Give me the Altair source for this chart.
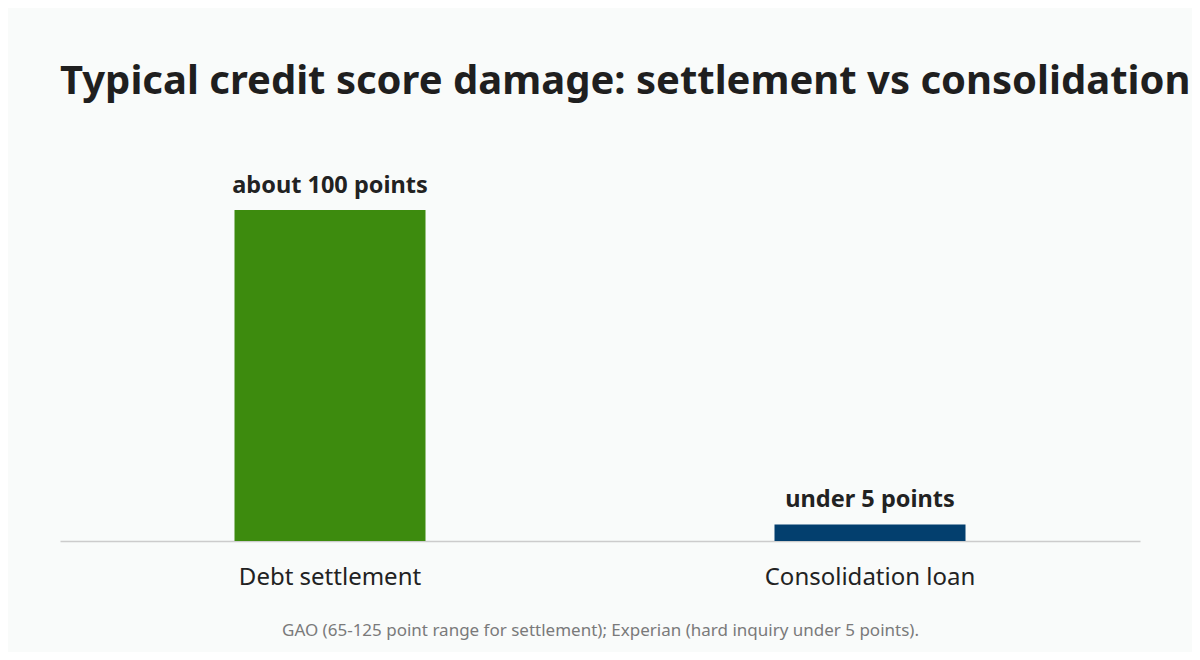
import altair as alt
import pandas as pd

categories = ["Debt settlement", "Consolidation loan"]
values = [100, 5]
labels = ["about 100 points", "under 5 points"]
colors = ["#3d8b0e", "#033f6e"]

df = pd.DataFrame({"cat": categories, "val": values, "label": labels, "color": colors})

FONT = "Noto Sans"

x = alt.X("cat:N", sort=categories,
          axis=alt.Axis(title="GAO (65-125 point range for settlement); Experian (hard inquiry under 5 points).",
                        titleFontSize=17, titleColor="#7a7a7a", titleFontWeight="normal",
                        titlePadding=33, titleFont=FONT,
                        labelFontSize=24, labelColor="#222222", labelFont=FONT, labelPadding=24,
                        labelLimit=600,
                        labelAngle=0, ticks=False, domainColor="#cccccc", domainWidth=1.5))

y = alt.Y("val:Q", scale=alt.Scale(domain=[0, 110]), axis=None)

bars = alt.Chart(df).mark_bar(size=191).encode(
    x=x, y=y, color=alt.Color("color:N", scale=None)
)

text = alt.Chart(df).mark_text(baseline="bottom", dy=-12, fontSize=23.5, fontWeight="bold",
                               font=FONT, color="#222222").encode(
    x=alt.X("cat:N", sort=categories), y=y, text="label:N"
)

chart = alt.layer(bars, text).properties(
    width=1080, height=364,
    padding={"left": 52, "top": 169, "right": 52, "bottom": 111},
    autosize=alt.AutoSizeParams(type="none"),
    background="#f9fbfa",
    title=alt.TitleParams("Typical credit score damage: settlement vs consolidation",
                          anchor="start", frame="group", fontSize=40, fontWeight="bold",
                          font=FONT, color="#1f1f1f", offset=72),
).configure_view(stroke=None)

chart.save("out.html", embed_options={"renderer": "svg", "actions": False})
